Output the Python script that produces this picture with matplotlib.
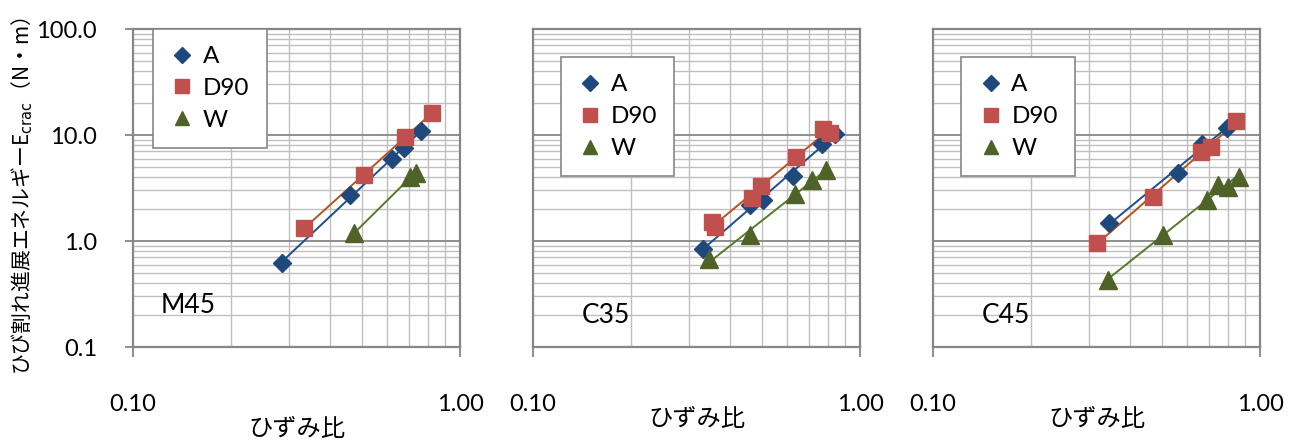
import numpy as np
import matplotlib.pyplot as plt
from matplotlib.ticker import FixedLocator, FixedFormatter, NullFormatter

plt.rcParams['font.family'] = ['Lato', 'Noto Sans CJK JP', 'DejaVu Sans']

# ひずみ比 / ひび割れ進展エネルギー for each mix
m45_a_x = [0.285, 0.461, 0.618, 0.674, 0.758]
m45_a_y = [0.62, 2.72, 5.90, 7.49, 10.9]
m45_d_x = [0.333, 0.510, 0.679, 0.823]
m45_d_y = [1.32, 4.19, 9.64, 16.2]
m45_w_x = [0.474, 0.703, 0.733]
m45_w_y = [1.18, 4.05, 4.35]

c35_a_x = [0.330, 0.461, 0.504, 0.622, 0.764, 0.839]
c35_a_y = [0.835, 2.19, 2.44, 4.10, 8.22, 10.2]
c35_d_x = [0.352, 0.360, 0.466, 0.497, 0.637, 0.772, 0.810]
c35_d_y = [1.50, 1.36, 2.53, 3.30, 6.24, 11.3, 10.5]
c35_w_x = [0.346, 0.461, 0.633, 0.712, 0.787]
c35_w_y = [0.672, 1.14, 2.78, 3.76, 4.68]

c45_a_x = [0.346, 0.563, 0.663, 0.791]
c45_a_y = [1.49, 4.35, 8.22, 11.7]
c45_d_x = [0.317, 0.472, 0.660, 0.708, 0.845]
c45_d_y = [0.964, 2.62, 6.96, 7.76, 13.6]
c45_w_x = [0.342, 0.506, 0.687, 0.746, 0.800, 0.864]
c45_w_y = [0.428, 1.14, 2.44, 3.38, 3.25, 4.05]

panels = [
    ("M45", (m45_a_x, m45_a_y), (m45_d_x, m45_d_y), (m45_w_x, m45_w_y)),
    ("C35", (c35_a_x, c35_a_y), (c35_d_x, c35_d_y), (c35_w_x, c35_w_y)),
    ("C45", (c45_a_x, c45_a_y), (c45_d_x, c45_d_y), (c45_w_x, c45_w_y)),
]
series_names = ["A", "D90", "W"]
markers = ["D", "s", "^"]
msizes = [9.2, 11.5, 12.5]
marker_colors = ["#1F497D", "#C0504D", "#4F6228"]
line_colors = ["#1F4E8C", "#B3541E", "#557A2A"]

y_ticks = [0.1, 1, 10, 100]
y_labels = ["0.1", "1.0", "10.0", "100.0"]
x_ticks = [0.1, 1.0]
x_labels = ["0.10", "1.00"]

fig = plt.figure(figsize=(12.96, 4.41), dpi=100)
lefts = [133 / 1296, 533 / 1296, 933 / 1296]
legend_pos = [(0.062, 1.0), (0.085, 0.911), (0.087, 0.911)]
name_pos = [(0.083, 0.132), (0.149, 0.10), (0.149, 0.10)]
xlabel_y = [-0.258, -0.226, -0.226]

gray = "#868686"
for i, (name, *data) in enumerate(panels):
    ax = fig.add_axes([lefts[i], 94 / 441, 327 / 1296, 318 / 441])
    ax.set_xscale("log")
    ax.set_yscale("log")
    ax.set_xlim(0.1, 1.0)
    ax.set_ylim(0.1, 100)

    for k, (xs, ys) in enumerate(data):
        xs = np.array(xs)
        ys = np.array(ys)
        # power-law trend line over the range of the data
        b, a = np.polyfit(np.log10(xs), np.log10(ys), 1)
        xf = np.array([xs.min(), xs.max()])
        ax.plot(xf, 10 ** (a + b * np.log10(xf)), color=line_colors[k], lw=1.4, zorder=3)
        ax.plot(xs, ys, ls="none", marker=markers[k], ms=msizes[k],
                color=marker_colors[k], mec=marker_colors[k], label=series_names[k], zorder=4)

    ax.yaxis.set_major_locator(FixedLocator(y_ticks))
    ax.yaxis.set_minor_locator(FixedLocator(
        [m * 10.0 ** e for e in (-1, 0, 1) for m in range(2, 10)]))
    ax.xaxis.set_major_locator(FixedLocator(x_ticks))
    ax.xaxis.set_minor_locator(FixedLocator([m / 10 for m in range(2, 10)]))
    ax.xaxis.set_major_formatter(FixedFormatter(x_labels))
    ax.xaxis.set_minor_formatter(NullFormatter())
    ax.yaxis.set_minor_formatter(NullFormatter())
    if i == 0:
        ax.yaxis.set_major_formatter(FixedFormatter(y_labels))
        ax.tick_params(axis="y", which="major", length=6, width=1.3, color=gray,
                       labelsize=17, pad=20)
    else:
        ax.yaxis.set_major_formatter(NullFormatter())
        ax.tick_params(axis="y", which="major", length=0)
    ax.tick_params(axis="x", which="major", length=7, width=1.3, color=gray,
                   labelsize=17, pad=27)
    ax.tick_params(which="minor", length=0)

    ax.grid(True, which="major", color=gray, lw=1.3)
    ax.grid(True, which="minor", color="#BFBFBF", lw=1.0)
    ax.set_axisbelow(True)
    for sp in ax.spines.values():
        sp.set_color(gray)
        sp.set_linewidth(1.6)

    ax.text(name_pos[i][0], name_pos[i][1], name, transform=ax.transAxes,
            fontsize=19, ha="left", va="center")
    ax.text(0.5, xlabel_y[i], "ひずみ比", transform=ax.transAxes,
            fontsize=17.5, ha="center", va="center", family=["Noto Sans CJK JP"])

    leg = ax.legend(loc="upper left", bbox_to_anchor=legend_pos[i], fontsize=17.5,
                    numpoints=1, markerscale=0.85, handlelength=1.0, handletextpad=0.35,
                    labelspacing=0.45, borderpad=0.7, borderaxespad=0,
                    fancybox=False, framealpha=1, edgecolor=gray)
    leg.get_frame().set_linewidth(1.2)

fig.text(0.017, 0.556, "ひび割れ進展エネルギーE$_{\\mathrm{crac}}$（N・m）",
         rotation=90, ha="center", va="center", fontsize=15,
         family=["Noto Sans CJK JP", "DejaVu Sans"])

fig.savefig("out.png", dpi=100)
